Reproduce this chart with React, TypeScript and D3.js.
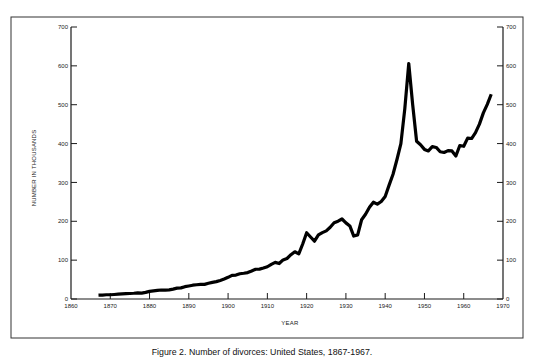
import React from "react";
import * as d3 from "d3";

const years: number[] = [
  1867, 1868, 1869, 1870, 1871, 1872, 1873, 1874, 1875, 1876, 1877, 1878, 1879,
  1880, 1881, 1882, 1883, 1884, 1885, 1886, 1887, 1888, 1889,
  1890, 1891, 1892, 1893, 1894, 1895, 1896, 1897, 1898, 1899,
  1900, 1901, 1902, 1903, 1904, 1905, 1906, 1907, 1908, 1909,
  1910, 1911, 1912, 1913, 1914, 1915, 1916, 1917, 1918, 1919,
  1920, 1921, 1922, 1923, 1924, 1925, 1926, 1927, 1928, 1929,
  1930, 1931, 1932, 1933, 1934, 1935, 1936, 1937, 1938, 1939,
  1940, 1941, 1942, 1943, 1944, 1945, 1946, 1947, 1948, 1949,
  1950, 1951, 1952, 1953, 1954, 1955, 1956, 1957, 1958, 1959,
  1960, 1961, 1962, 1963, 1964, 1965, 1966, 1967,
];

const divorces: number[] = [
  9.9, 10.2, 10.9, 11.0, 11.6, 12.4, 13.2, 13.9, 14.2, 14.8, 15.7, 15.3, 17.1,
  19.7, 20.8, 22.1, 23.2, 22.9, 23.5, 25.5, 27.9, 28.7, 31.7,
  33.5, 35.5, 36.6, 37.5, 37.6, 40.4, 42.9, 44.7, 47.8, 51.4,
  55.8, 60.9, 61.5, 65.0, 66.2, 68.0, 72.1, 76.6, 76.9, 79.7,
  83.0, 89.2, 94.3, 91.3, 100.6, 104.3, 114.0, 121.6, 116.3, 141.5,
  170.5, 159.6, 148.8, 165.1, 170.9, 175.4, 184.7, 196.3, 200.2, 205.9,
  195.9, 188.0, 162.0, 165.0, 204.0, 218.0, 236.0, 249.0, 244.0, 251.0,
  264.0, 293.0, 321.0, 359.0, 400.0, 490.0, 606.0, 500.0, 406.0, 397.0,
  385.0, 381.0, 392.0, 390.0, 379.0, 377.0, 382.0, 381.0, 368.0, 395.0,
  393.0, 414.0, 413.0, 428.0, 450.0, 479.0, 501.0, 527.0,
];

const xTicks: number[] = [1860, 1870, 1880, 1890, 1900, 1910, 1920, 1930, 1940, 1950, 1960, 1970];
const yTicks: number[] = [0, 100, 200, 300, 400, 500, 600, 700];

const yAxisTitle = "NUMBER IN THOUSANDS";
const xAxisTitle = "YEAR";
const caption = "Figure 2.  Number of divorces: United States, 1867-1967.";

export default function App() {
  const W = 540;
  const H = 359;
  const left = 71;
  const right = 503;
  const top = 27;
  const bottom = 299;

  const x = d3.scaleLinear().domain([1860, 1970]).range([left, right]);
  const y = d3.scaleLinear().domain([0, 700]).range([bottom, top]);

  const data = years.map((yr, i) => ({ yr, v: divorces[i] }));
  const line = d3
    .line<{ yr: number; v: number }>()
    .x((d) => x(d.yr))
    .y((d) => y(d.v));

  const font = "'Liberation Sans', Arial, Helvetica, sans-serif";
  const axisColor = "#1a1a1a";
  const tickLen = 6;

  return (
    <svg
      width={W}
      height={H}
      style={{ position: "absolute", left: 0, top: 0, background: "#fff" }}
      fontFamily={font}
    >
      <rect x={0} y={0} width={W} height={H} fill="#fff" />
      {/* frame */}
      <rect x={11} y={17} width={512} height={321} fill="none" stroke="#333" strokeWidth={1} />

      {/* axes */}
      <line x1={left} x2={left} y1={top} y2={bottom} stroke={axisColor} strokeWidth={1.2} />
      <line x1={right} x2={right} y1={top} y2={bottom} stroke={axisColor} strokeWidth={1.2} />
      <line x1={left} x2={right} y1={bottom} y2={bottom} stroke={axisColor} strokeWidth={1.2} />

      {/* y ticks */}
      {yTicks.map((t) => (
        <g key={"y" + t}>
          <line x1={left} x2={left + tickLen} y1={y(t)} y2={y(t)} stroke={axisColor} strokeWidth={1} />
          <line x1={right - tickLen} x2={right} y1={y(t)} y2={y(t)} stroke={axisColor} strokeWidth={1} />
          <text x={left - 3} y={y(t)} dy="0.35em" textAnchor="end" fontSize={6} fill="#222">
            {t}
          </text>
          <text x={right + 3} y={y(t)} dy="0.35em" textAnchor="start" fontSize={6} fill="#222">
            {t}
          </text>
        </g>
      ))}

      {/* x ticks */}
      {xTicks.map((t) => (
        <g key={"x" + t}>
          {t > 1860 && t < 1970 && (
            <line x1={x(t)} x2={x(t)} y1={bottom} y2={bottom - tickLen} stroke={axisColor} strokeWidth={1} />
          )}
          <text x={x(t)} y={bottom + 9} textAnchor="middle" fontSize={6} fill="#222">
            {t}
          </text>
        </g>
      ))}

      {/* axis titles */}
      <text
        transform={`translate(34,168) rotate(-90)`}
        textAnchor="middle"
        dy="0.35em"
        fontSize={6}
        fill="#222"
        letterSpacing={0.2}
      >
        {yAxisTitle}
      </text>
      <text x={290} y={325} textAnchor="middle" fontSize={6} fill="#222" letterSpacing={0.3}>
        {xAxisTitle}
      </text>

      {/* data line */}
      <path d={line(data) || ""} fill="none" stroke="#000" strokeWidth={3.2} strokeLinejoin="round" />

      {/* caption */}
      <text x={262} y={355} textAnchor="middle" fontSize={8.8} fill="#111">
        {caption}
      </text>
    </svg>
  );
}
